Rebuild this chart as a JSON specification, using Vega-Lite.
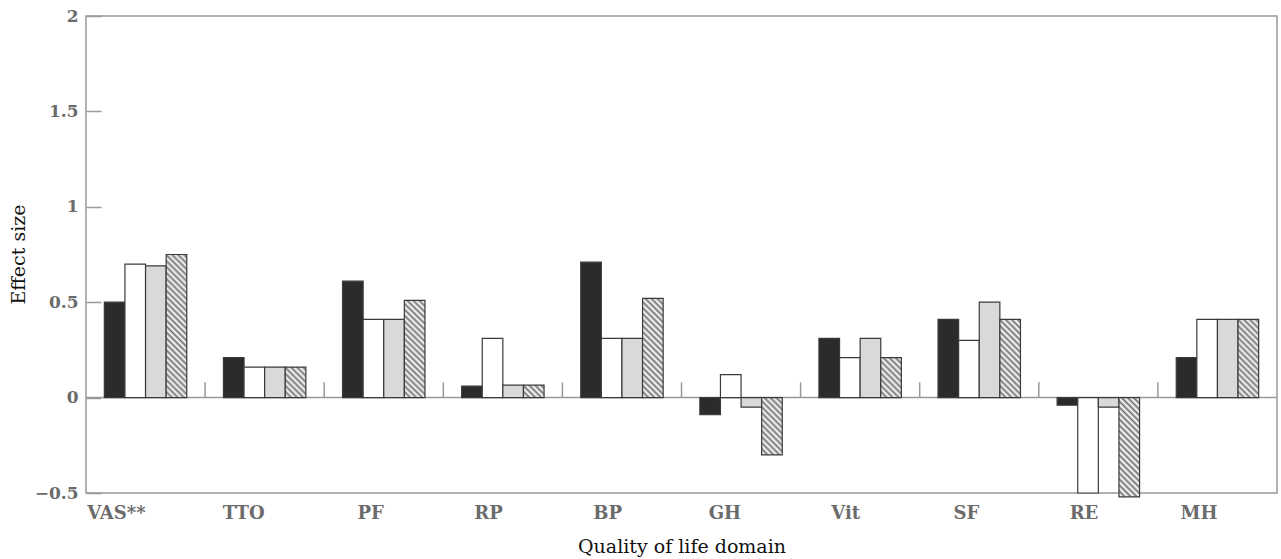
{
  "$schema": "https://vega.github.io/schema/vega-lite/v6.json",
  "autosize": "none",
  "width": 1191,
  "height": 477,
  "padding": {"left": 86, "top": 16, "right": 4, "bottom": 66},
  "background": "#ffffff",
  "config": {
    "view": {"stroke": "#999999", "strokeWidth": 1.5},
    "axis": {"labelFont": "DejaVu Serif", "titleFont": "DejaVu Serif", "grid": false}
  },
  "data": {
    "values": [
      {"domain": "VAS**", "series": "A", "value": 0.5},
      {"domain": "VAS**", "series": "B", "value": 0.7},
      {"domain": "VAS**", "series": "C", "value": 0.69},
      {"domain": "VAS**", "series": "D", "value": 0.75},
      {"domain": "TTO", "series": "A", "value": 0.21},
      {"domain": "TTO", "series": "B", "value": 0.16},
      {"domain": "TTO", "series": "C", "value": 0.16},
      {"domain": "TTO", "series": "D", "value": 0.16},
      {"domain": "PF", "series": "A", "value": 0.61},
      {"domain": "PF", "series": "B", "value": 0.41},
      {"domain": "PF", "series": "C", "value": 0.41},
      {"domain": "PF", "series": "D", "value": 0.51},
      {"domain": "RP", "series": "A", "value": 0.06},
      {"domain": "RP", "series": "B", "value": 0.31},
      {"domain": "RP", "series": "C", "value": 0.065},
      {"domain": "RP", "series": "D", "value": 0.065},
      {"domain": "BP", "series": "A", "value": 0.71},
      {"domain": "BP", "series": "B", "value": 0.31},
      {"domain": "BP", "series": "C", "value": 0.31},
      {"domain": "BP", "series": "D", "value": 0.52},
      {"domain": "GH", "series": "A", "value": -0.09},
      {"domain": "GH", "series": "B", "value": 0.12},
      {"domain": "GH", "series": "C", "value": -0.05},
      {"domain": "GH", "series": "D", "value": -0.3},
      {"domain": "Vit", "series": "A", "value": 0.31},
      {"domain": "Vit", "series": "B", "value": 0.21},
      {"domain": "Vit", "series": "C", "value": 0.31},
      {"domain": "Vit", "series": "D", "value": 0.21},
      {"domain": "SF", "series": "A", "value": 0.41},
      {"domain": "SF", "series": "B", "value": 0.3},
      {"domain": "SF", "series": "C", "value": 0.5},
      {"domain": "SF", "series": "D", "value": 0.41},
      {"domain": "RE", "series": "A", "value": -0.04},
      {"domain": "RE", "series": "B", "value": -0.5},
      {"domain": "RE", "series": "C", "value": -0.05},
      {"domain": "RE", "series": "D", "value": -0.52},
      {"domain": "MH", "series": "A", "value": 0.21},
      {"domain": "MH", "series": "B", "value": 0.41},
      {"domain": "MH", "series": "C", "value": 0.41},
      {"domain": "MH", "series": "D", "value": 0.41}
    ]
  },
  "layer": [
    {
      "transform": [{"filter": "datum.series === 'A' && datum.domain === 'VAS**'"}],
      "mark": {"type": "rule", "color": "#999999", "strokeWidth": 1.5},
      "encoding": {
        "y": {"datum": 0, "type": "quantitative", "scale": {"domain": [-0.5, 2], "nice": false, "zero": false}}
      }
    },
    {
      "transform": [{"filter": "datum.series === 'A' && datum.domain !== 'VAS**'"}],
      "mark": {"type": "rule", "color": "#999999", "strokeWidth": 1.5},
      "encoding": {
        "x": {"field": "domain", "type": "nominal", "bandPosition": 0},
        "y": {"datum": 0, "type": "quantitative"},
        "y2": {"datum": 0.08}
      }
    },
    {
      "mark": {"type": "bar", "stroke": "#3a3a3a", "strokeWidth": 1.2},
      "encoding": {
        "x": {
          "field": "domain", "type": "nominal",
          "scale": {"domain": ["VAS**", "TTO", "PF", "RP", "BP", "GH", "Vit", "SF", "RE", "MH"], "paddingInner": 0, "paddingOuter": 0},
          "axis": {
            "title": "Quality of life domain", "labelAngle": 0, "domain": false, "ticks": false, "tickSize": 0,
            "labelFontSize": 18, "labelFontWeight": "bold", "labelColor": "#6b6b6b", "labelBaseline": "alphabetic", "labelPadding": 25,
            "titleFontSize": 19, "titleFontWeight": "normal", "titleColor": "#111111", "titleBaseline": "alphabetic", "titleY": 59
          }
        },
        "xOffset": {"field": "series", "type": "nominal", "scale": {"paddingInner": 0, "paddingOuter": 0.89}},
        "y": {
          "field": "value", "type": "quantitative",
          "scale": {"domain": [-0.5, 2], "nice": false, "zero": false},
          "axis": {
            "title": "Effect size", "values": [-0.5, 0, 0.5, 1, 1.5, 2], "format": "~g", "domain": false,
            "tickSize": -15, "tickColor": "#999999", "tickWidth": 1.5,
            "labelFontSize": 17, "labelFontWeight": "bold", "labelColor": "#6b6b6b", "labelPadding": 23,
            "titleFontSize": 19, "titleFontWeight": "normal", "titleColor": "#111111",
            "titleX": -68, "titleY": 238, "titleAlign": "center", "titleBaseline": "middle", "titleAngle": -90
          }
        },
        "fill": {
          "field": "series", "type": "nominal", "legend": null,
          "scale": {"domain": ["A", "B", "C", "D"], "range": ["#2b2b2b", "#ffffff", "#d9d9d9", "#ffffff"]},
          "condition": [
            {"test": "datum.series === 'D' && datum.domain === 'VAS**'", "value": {"gradient": "linear", "x1": 0, "y1": 1, "x2": 0.1613, "y2": -0.1207, "stops": [
              {"offset":0,"color":"#777"},{"offset":0.0182,"color":"#fff"},{"offset":0.0364,"color":"#777"},{"offset":0.0545,"color":"#fff"},{"offset":0.0727,"color":"#777"},{"offset":0.0909,"color":"#fff"},{"offset":0.1091,"color":"#777"},{"offset":0.1273,"color":"#fff"},{"offset":0.1455,"color":"#777"},{"offset":0.1636,"color":"#fff"},{"offset":0.1818,"color":"#777"},{"offset":0.2,"color":"#fff"},{"offset":0.2182,"color":"#777"},{"offset":0.2364,"color":"#fff"},{"offset":0.2545,"color":"#777"},{"offset":0.2727,"color":"#fff"},{"offset":0.2909,"color":"#777"},{"offset":0.3091,"color":"#fff"},{"offset":0.3273,"color":"#777"},{"offset":0.3455,"color":"#fff"},{"offset":0.3636,"color":"#777"},{"offset":0.3818,"color":"#fff"},{"offset":0.4,"color":"#777"},{"offset":0.4182,"color":"#fff"},{"offset":0.4364,"color":"#777"},{"offset":0.4545,"color":"#fff"},{"offset":0.4727,"color":"#777"},{"offset":0.4909,"color":"#fff"},{"offset":0.5091,"color":"#777"},{"offset":0.5273,"color":"#fff"},{"offset":0.5455,"color":"#777"},{"offset":0.5636,"color":"#fff"},{"offset":0.5818,"color":"#777"},{"offset":0.6,"color":"#fff"},{"offset":0.6182,"color":"#777"},{"offset":0.6364,"color":"#fff"},{"offset":0.6545,"color":"#777"},{"offset":0.6727,"color":"#fff"},{"offset":0.6909,"color":"#777"},{"offset":0.7091,"color":"#fff"},{"offset":0.7273,"color":"#777"},{"offset":0.7455,"color":"#fff"},{"offset":0.7636,"color":"#777"},{"offset":0.7818,"color":"#fff"},{"offset":0.8,"color":"#777"},{"offset":0.8182,"color":"#fff"},{"offset":0.8364,"color":"#777"},{"offset":0.8545,"color":"#fff"},{"offset":0.8727,"color":"#777"},{"offset":0.8909,"color":"#fff"},{"offset":0.9091,"color":"#777"},{"offset":0.9273,"color":"#fff"},{"offset":0.9455,"color":"#777"},{"offset":0.9636,"color":"#fff"},{"offset":0.9818,"color":"#777"},{"offset":1,"color":"#fff"}]}},
            {"test": "datum.series === 'D' && datum.domain === 'TTO'", "value": {"gradient": "linear", "x1": 0, "y1": 1, "x2": 0.777, "y2": -0.1505, "stops": [
              {"offset":0,"color":"#777"},{"offset":0.0588,"color":"#fff"},{"offset":0.1176,"color":"#777"},{"offset":0.1765,"color":"#fff"},{"offset":0.2353,"color":"#777"},{"offset":0.2941,"color":"#fff"},{"offset":0.3529,"color":"#777"},{"offset":0.4118,"color":"#fff"},{"offset":0.4706,"color":"#777"},{"offset":0.5294,"color":"#fff"},{"offset":0.5882,"color":"#777"},{"offset":0.6471,"color":"#fff"},{"offset":0.7059,"color":"#777"},{"offset":0.7647,"color":"#fff"},{"offset":0.8235,"color":"#777"},{"offset":0.8824,"color":"#fff"},{"offset":0.9412,"color":"#777"},{"offset":1,"color":"#fff"}]}},
            {"test": "datum.series === 'D' && (datum.domain === 'PF' || datum.domain === 'BP' || datum.domain === 'RE')", "value": {"gradient": "linear", "x1": 0, "y1": 1, "x2": 0.2404, "y2": -0.1578, "stops": [
              {"offset":0,"color":"#777"},{"offset":0.025,"color":"#fff"},{"offset":0.05,"color":"#777"},{"offset":0.075,"color":"#fff"},{"offset":0.1,"color":"#777"},{"offset":0.125,"color":"#fff"},{"offset":0.15,"color":"#777"},{"offset":0.175,"color":"#fff"},{"offset":0.2,"color":"#777"},{"offset":0.225,"color":"#fff"},{"offset":0.25,"color":"#777"},{"offset":0.275,"color":"#fff"},{"offset":0.3,"color":"#777"},{"offset":0.325,"color":"#fff"},{"offset":0.35,"color":"#777"},{"offset":0.375,"color":"#fff"},{"offset":0.4,"color":"#777"},{"offset":0.425,"color":"#fff"},{"offset":0.45,"color":"#777"},{"offset":0.475,"color":"#fff"},{"offset":0.5,"color":"#777"},{"offset":0.525,"color":"#fff"},{"offset":0.55,"color":"#777"},{"offset":0.575,"color":"#fff"},{"offset":0.6,"color":"#777"},{"offset":0.625,"color":"#fff"},{"offset":0.65,"color":"#777"},{"offset":0.675,"color":"#fff"},{"offset":0.7,"color":"#777"},{"offset":0.725,"color":"#fff"},{"offset":0.75,"color":"#777"},{"offset":0.775,"color":"#fff"},{"offset":0.8,"color":"#777"},{"offset":0.825,"color":"#fff"},{"offset":0.85,"color":"#777"},{"offset":0.875,"color":"#fff"},{"offset":0.9,"color":"#777"},{"offset":0.925,"color":"#fff"},{"offset":0.95,"color":"#777"},{"offset":0.975,"color":"#fff"},{"offset":1,"color":"#777"}]}},
            {"test": "datum.series === 'D' && datum.domain === 'RP'", "value": {"gradient": "linear", "x1": 0, "y1": 1, "x2": 1.1757, "y2": 0.2923, "stops": [
              {"offset":0,"color":"#777"},{"offset":0.0909,"color":"#fff"},{"offset":0.1818,"color":"#777"},{"offset":0.2727,"color":"#fff"},{"offset":0.3636,"color":"#777"},{"offset":0.4545,"color":"#fff"},{"offset":0.5455,"color":"#777"},{"offset":0.6364,"color":"#fff"},{"offset":0.7273,"color":"#777"},{"offset":0.8182,"color":"#fff"},{"offset":0.9091,"color":"#777"},{"offset":1,"color":"#fff"}]}},
            {"test": "datum.series === 'D' && datum.domain === 'GH'", "value": {"gradient": "linear", "x1": 0, "y1": 1, "x2": 0.4336, "y2": -0.204, "stops": [
              {"offset":0,"color":"#777"},{"offset":0.0385,"color":"#fff"},{"offset":0.0769,"color":"#777"},{"offset":0.1154,"color":"#fff"},{"offset":0.1538,"color":"#777"},{"offset":0.1923,"color":"#fff"},{"offset":0.2308,"color":"#777"},{"offset":0.2692,"color":"#fff"},{"offset":0.3077,"color":"#777"},{"offset":0.3462,"color":"#fff"},{"offset":0.3846,"color":"#777"},{"offset":0.4231,"color":"#fff"},{"offset":0.4615,"color":"#777"},{"offset":0.5,"color":"#fff"},{"offset":0.5385,"color":"#777"},{"offset":0.5769,"color":"#fff"},{"offset":0.6154,"color":"#777"},{"offset":0.6538,"color":"#fff"},{"offset":0.6923,"color":"#777"},{"offset":0.7308,"color":"#fff"},{"offset":0.7692,"color":"#777"},{"offset":0.8077,"color":"#fff"},{"offset":0.8462,"color":"#777"},{"offset":0.8846,"color":"#fff"},{"offset":0.9231,"color":"#777"},{"offset":0.9615,"color":"#fff"},{"offset":1,"color":"#777"}]}},
            {"test": "datum.series === 'D' && datum.domain === 'Vit'", "value": {"gradient": "linear", "x1": 0, "y1": 1, "x2": 0.6153, "y2": -0.1977, "stops": [
              {"offset":0,"color":"#777"},{"offset":0.05,"color":"#fff"},{"offset":0.1,"color":"#777"},{"offset":0.15,"color":"#fff"},{"offset":0.2,"color":"#777"},{"offset":0.25,"color":"#fff"},{"offset":0.3,"color":"#777"},{"offset":0.35,"color":"#fff"},{"offset":0.4,"color":"#777"},{"offset":0.45,"color":"#fff"},{"offset":0.5,"color":"#777"},{"offset":0.55,"color":"#fff"},{"offset":0.6,"color":"#777"},{"offset":0.65,"color":"#fff"},{"offset":0.7,"color":"#777"},{"offset":0.75,"color":"#fff"},{"offset":0.8,"color":"#777"},{"offset":0.85,"color":"#fff"},{"offset":0.9,"color":"#777"},{"offset":0.95,"color":"#fff"},{"offset":1,"color":"#777"}]}},
            {"test": "datum.series === 'D' && (datum.domain === 'SF' || datum.domain === 'MH')", "value": {"gradient": "linear", "x1": 0, "y1": 1, "x2": 0.3112, "y2": -0.1815, "stops": [
              {"offset":0,"color":"#777"},{"offset":0.0303,"color":"#fff"},{"offset":0.0606,"color":"#777"},{"offset":0.0909,"color":"#fff"},{"offset":0.1212,"color":"#777"},{"offset":0.1515,"color":"#fff"},{"offset":0.1818,"color":"#777"},{"offset":0.2121,"color":"#fff"},{"offset":0.2424,"color":"#777"},{"offset":0.2727,"color":"#fff"},{"offset":0.303,"color":"#777"},{"offset":0.3333,"color":"#fff"},{"offset":0.3636,"color":"#777"},{"offset":0.3939,"color":"#fff"},{"offset":0.4242,"color":"#777"},{"offset":0.4545,"color":"#fff"},{"offset":0.4848,"color":"#777"},{"offset":0.5152,"color":"#fff"},{"offset":0.5455,"color":"#777"},{"offset":0.5758,"color":"#fff"},{"offset":0.6061,"color":"#777"},{"offset":0.6364,"color":"#fff"},{"offset":0.6667,"color":"#777"},{"offset":0.697,"color":"#fff"},{"offset":0.7273,"color":"#777"},{"offset":0.7576,"color":"#fff"},{"offset":0.7879,"color":"#777"},{"offset":0.8182,"color":"#fff"},{"offset":0.8485,"color":"#777"},{"offset":0.8788,"color":"#fff"},{"offset":0.9091,"color":"#777"},{"offset":0.9394,"color":"#fff"},{"offset":0.9697,"color":"#777"},{"offset":1,"color":"#fff"}]}}
          ]
        }
      }
    }
  ]
}
